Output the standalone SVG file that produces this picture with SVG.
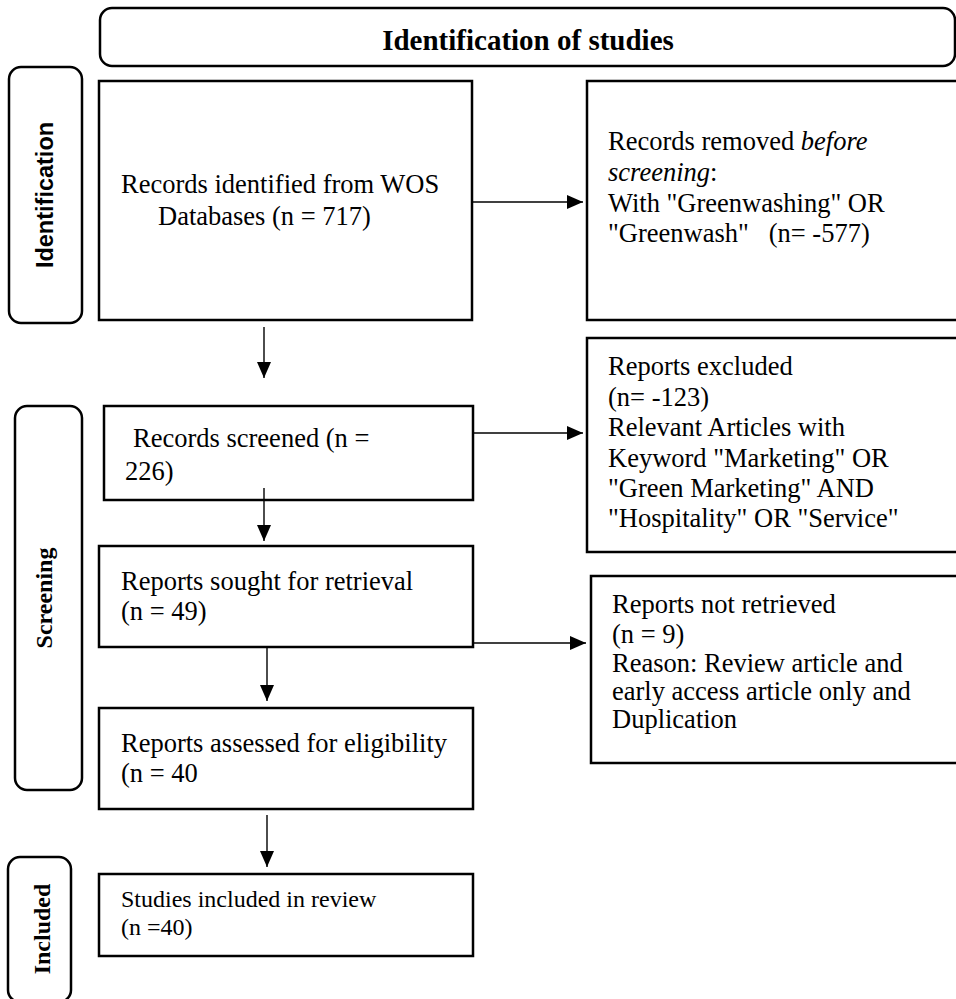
<svg xmlns="http://www.w3.org/2000/svg" width="956" height="999" viewBox="0 0 956 999">
<style>
.box{fill:#fff;stroke:#000;stroke-width:2.5}
.side{fill:#fff;stroke:#000;stroke-width:2.5}
.t{font-family:"Liberation Serif","Times New Roman",serif;font-size:26.5px;fill:#000;white-space:pre}
.ts{font-family:"Liberation Serif","Times New Roman",serif;font-size:24px;fill:#000}
.title{font-family:"Liberation Serif","Times New Roman",serif;font-size:29px;font-weight:bold;fill:#000}
.vs{font-family:"Liberation Sans",Arial,sans-serif;font-size:23.5px;font-weight:bold;fill:#000}
.vt{font-family:"Liberation Serif","Times New Roman",serif;font-size:24px;font-weight:bold;fill:#000}
.conn{stroke:#000;stroke-width:1.4;fill:none}
</style>
<defs>
<marker id="arr" markerUnits="userSpaceOnUse" markerWidth="16" markerHeight="14" refX="16" refY="7" orient="auto">
<path d="M0,0 L16,7 L0,14 Z" fill="#000"/>
</marker>
</defs>
<rect width="956" height="999" fill="#fff"/>

<g id="header">
<rect class="side" x="100" y="8" width="855" height="58" rx="12"/>
<text class="title" x="528" y="50" text-anchor="middle">Identification of studies</text>
</g>

<g id="side-identification">
<rect class="side" x="9" y="67" width="73" height="256" rx="12"/>
<text class="vs" transform="translate(53,195) rotate(-90)" text-anchor="middle">Identification</text>
</g>

<g id="side-screening">
<rect class="side" x="15" y="406" width="67" height="384" rx="12"/>
<text class="vt" transform="translate(52,598) rotate(-90)" text-anchor="middle">Screening</text>
</g>

<g id="side-included">
<rect class="side" x="8" y="857" width="63" height="145" rx="12"/>
<text class="vt" transform="translate(50,929) rotate(-90)" text-anchor="middle">Included</text>
</g>

<g id="records-identified">
<rect class="box" x="99" y="81" width="373" height="239"/>
<text class="t" x="121" y="193">Records identified from WOS</text>
<text class="t" x="158" y="225">Databases (n = 717)</text>
</g>

<g id="records-removed">
<rect class="box" x="587" y="81" width="375" height="239"/>
<text class="t" x="608" y="150">Records removed <tspan font-style="italic">before</tspan></text>
<text class="t" x="608" y="181"><tspan font-style="italic">screening</tspan>:</text>
<text class="t" x="608" y="212">With "Greenwashing" OR</text>
<text class="t" x="608" y="242">"Greenwash"   (n= -577)</text>
</g>

<g id="records-screened">
<rect class="box" x="104" y="406" width="369" height="94"/>
<text class="t" x="133" y="447">Records screened (n =</text>
<text class="t" x="125" y="480">226)</text>
</g>

<g id="reports-excluded">
<rect class="box" x="587" y="338" width="375" height="214"/>
<text class="t" x="608" y="375">Reports excluded</text>
<text class="t" x="608" y="406">(n= -123)</text>
<text class="t" x="608" y="436">Relevant Articles with</text>
<text class="t" x="608" y="467">Keyword "Marketing" OR</text>
<text class="t" x="608" y="497">"Green Marketing" AND</text>
<text class="t" x="608" y="527">"Hospitality" OR "Service"</text>
</g>

<g id="reports-sought">
<rect class="box" x="99" y="546" width="374" height="101"/>
<text class="t" x="121" y="590">Reports sought for retrieval</text>
<text class="t" x="121" y="620">(n = 49)</text>
</g>

<g id="reports-not-retrieved">
<rect class="box" x="591" y="576" width="371" height="187"/>
<text class="t" x="612" y="613">Reports not retrieved</text>
<text class="t" x="612" y="643">(n = 9)</text>
<text class="t" x="612" y="672">Reason: Review article and</text>
<text class="t" x="612" y="700">early access article only and</text>
<text class="t" x="612" y="728">Duplication</text>
</g>

<g id="reports-assessed">
<rect class="box" x="99" y="708" width="374" height="101"/>
<text class="t" x="121" y="752">Reports assessed for eligibility</text>
<text class="t" x="121" y="782">(n = 40</text>
</g>

<g id="studies-included">
<rect class="box" x="99" y="874" width="374" height="82"/>
<text class="ts" x="121" y="907">Studies included in review</text>
<text class="ts" x="121" y="935">(n =40)</text>
</g>

<g id="connectors">
<line class="conn" x1="264" y1="327" x2="264" y2="378" marker-end="url(#arr)"/>
<line class="conn" x1="264" y1="488" x2="264" y2="541" marker-end="url(#arr)"/>
<line class="conn" x1="267" y1="648" x2="267" y2="701" marker-end="url(#arr)"/>
<line class="conn" x1="267" y1="815" x2="267" y2="867" marker-end="url(#arr)"/>
<line class="conn" x1="472" y1="202" x2="583" y2="202" marker-end="url(#arr)"/>
<line class="conn" x1="473" y1="433" x2="583" y2="433" marker-end="url(#arr)"/>
<line class="conn" x1="473" y1="643" x2="586" y2="643" marker-end="url(#arr)"/>
</g>
</svg>
